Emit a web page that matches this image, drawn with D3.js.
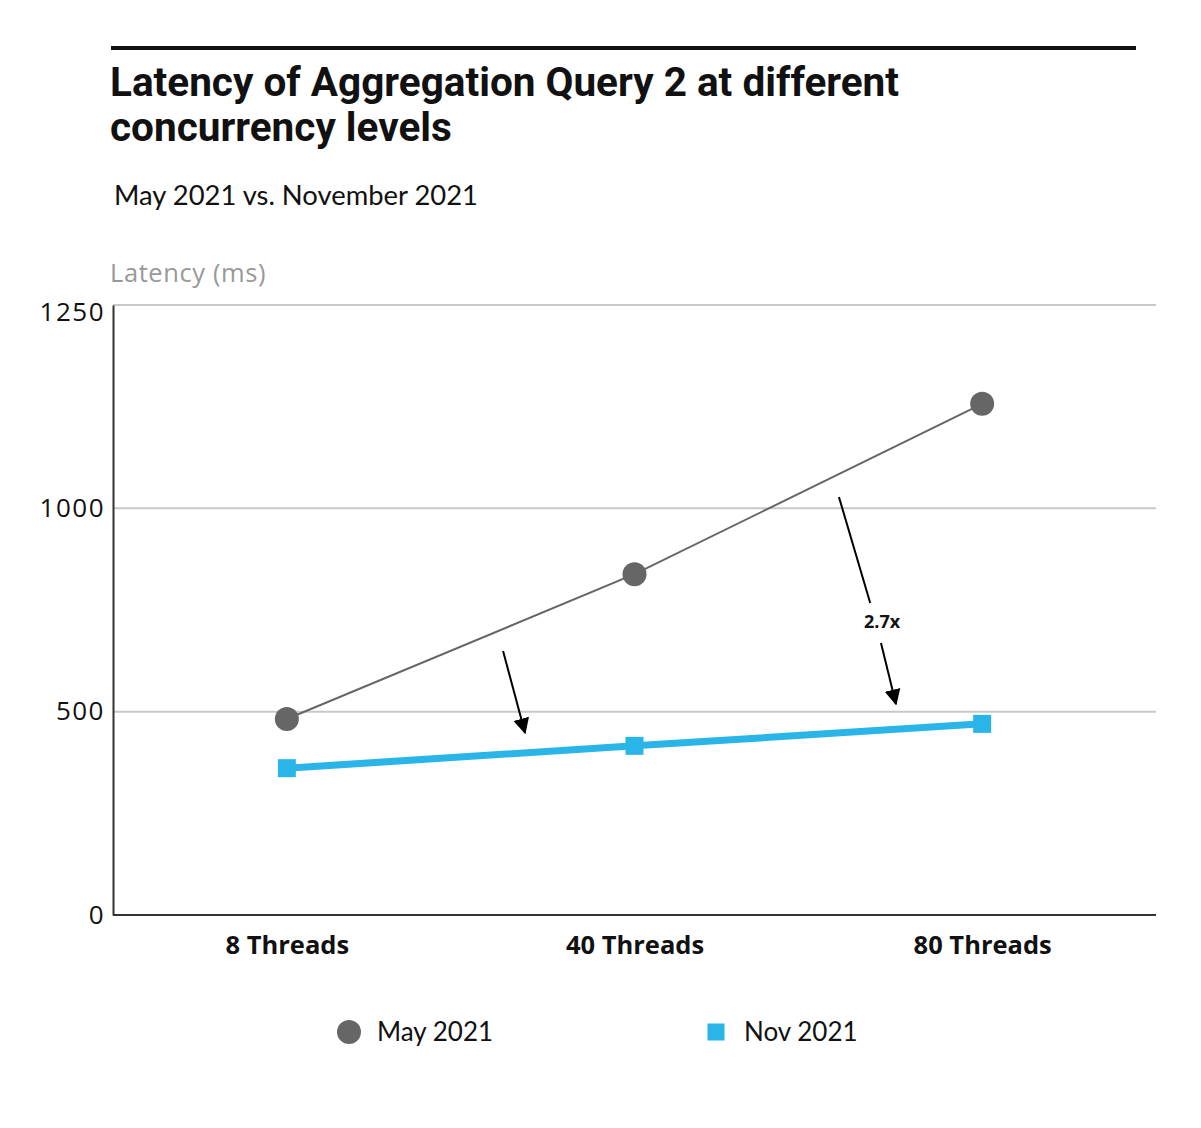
<!DOCTYPE html>
<html>
<head>
<meta charset="utf-8">
<script src="https://cdn.jsdelivr.net/npm/d3@7"></script>
<style>
  body { margin: 0; background: #fff; }
  svg { display: block; }
</style>
</head>
<body>
<svg id="chart" width="1201" height="1128"></svg>
<script>
// data
const threads = ["8 Threads", "40 Threads", "80 Threads"];
const may2021 = [482, 838, 1257];
const nov2021 = [361, 416, 470];
const tickValues = [0, 500, 1000, 1500];
const tickLabels = ["0", "500", "1000", "1250"];
const seriesNames = ["May 2021", "Nov 2021"];

// annotation arrows in data units (x = category index, y = latency)
const arrows = [
    [[0.622, 649], [0.685, 448]],
    [[1.588, 1028], [1.678, 767]],
    [[1.709, 669], [1.752, 519]]
];
const ratioLabel = { i: 1.712, v: 706, text: "2.7x" };

const plotLeft = 113, plotRight = 1156, plotTop = 305, plotBottom = 915;

const grey = "#666666";
const blue = "#29b5e8";

const svg = d3.select("#chart");

// top rule
svg.append("rect")
    .attr("x", 111).attr("y", 46)
    .attr("width", 1136 - 111).attr("height", 4)
    .attr("fill", "#111");

// title
const title = svg.append("text")
    .attr("x", 110)
    .attr("font-family", "Roboto")
    .attr("font-weight", 700)
    .attr("font-size", 40.5)
    .attr("fill", "#111");
title.append("tspan").attr("x", 110).attr("y", 96).text("Latency of Aggregation Query 2 at different");
title.append("tspan").attr("x", 110).attr("y", 141).text("concurrency levels");

svg.append("text")
    .attr("x", 114).attr("y", 205)
    .attr("font-family", "Lato")
    .attr("font-size", 27.4)
    .attr("fill", "#111")
    .text("May 2021 vs. November 2021");

svg.append("text")
    .attr("x", 110).attr("y", 282)
    .attr("font-family", "Open Sans")
    .attr("font-size", 25.5)
    .attr("letter-spacing", 0.6)
    .attr("fill", "#999")
    .text("Latency (ms)");

// scales
const x = d3.scalePoint()
    .domain(threads)
    .range([plotLeft, plotRight])
    .padding(0.5);

const xi = d3.scaleLinear()
    .domain([0, 1])
    .range([x(threads[0]), x(threads[1])]);

const y = d3.scaleLinear()
    .domain([0, 1500])
    .range([plotBottom, plotTop]);

// gridlines
svg.append("g")
    .selectAll("line")
    .data(tickValues.slice(1))
    .join("line")
    .attr("x1", plotLeft).attr("x2", plotRight)
    .attr("y1", d => y(d)).attr("y2", d => y(d))
    .attr("stroke", "#c8c8c8")
    .attr("stroke-width", 2);

// y axis
const yAxis = svg.append("g")
    .attr("transform", `translate(${plotLeft},0)`)
    .call(d3.axisLeft(y)
        .tickValues(tickValues)
        .tickSize(0)
        .tickPadding(8)
        .tickFormat((d, i) => tickLabels[i]));
yAxis.select(".domain").attr("stroke", "#333").attr("stroke-width", 2);
yAxis.selectAll("text")
    .attr("font-family", "Open Sans")
    .attr("font-size", 26)
    .attr("letter-spacing", 1.5)
    .attr("fill", "#111")
    .attr("dy", d => d === 1500 ? "0.6em" : "0.32em");

// x axis
const xAxis = svg.append("g")
    .attr("transform", `translate(0,${plotBottom})`)
    .call(d3.axisBottom(x).tickSize(0).tickPadding(21));
xAxis.select(".domain")
    .attr("d", `M${plotLeft},0H${plotRight}`)
    .attr("stroke", "#333").attr("stroke-width", 2);
xAxis.selectAll("text")
    .attr("font-family", "Open Sans")
    .attr("font-weight", 700)
    .attr("font-size", 25.5)
    .attr("fill", "#111");

// lines
const line = d3.line()
    .x((d, i) => x(threads[i]))
    .y(d => y(d));

svg.append("path")
    .datum(may2021)
    .attr("d", line)
    .attr("fill", "none")
    .attr("stroke", grey)
    .attr("stroke-width", 2);

svg.append("path")
    .datum(nov2021)
    .attr("d", line)
    .attr("fill", "none")
    .attr("stroke", blue)
    .attr("stroke-width", 7);

svg.append("g")
    .selectAll("circle")
    .data(may2021)
    .join("circle")
    .attr("cx", (d, i) => x(threads[i]))
    .attr("cy", d => y(d))
    .attr("r", 12)
    .attr("fill", grey);

const sq = 18;
svg.append("g")
    .selectAll("rect")
    .data(nov2021)
    .join("rect")
    .attr("x", (d, i) => x(threads[i]) - sq / 2)
    .attr("y", d => y(d) - sq / 2)
    .attr("width", sq).attr("height", sq)
    .attr("fill", blue);

// annotation arrows
svg.append("defs").append("marker")
    .attr("id", "head")
    .attr("viewBox", "0 0 10 10")
    .attr("refX", 9).attr("refY", 5)
    .attr("markerUnits", "userSpaceOnUse")
    .attr("markerWidth", 16).attr("markerHeight", 24)
    .attr("orient", "auto")
    .append("path")
    .attr("d", "M0,0L10,5L0,10Z")
    .attr("fill", "#000");

svg.append("g")
    .selectAll("line")
    .data(arrows)
    .join("line")
    .attr("x1", d => xi(d[0][0])).attr("y1", d => y(d[0][1]))
    .attr("x2", d => xi(d[1][0])).attr("y2", d => y(d[1][1]))
    .attr("stroke", "#000")
    .attr("stroke-width", 2)
    .attr("marker-end", (d, i) => i === 1 ? null : "url(#head)");

svg.append("text")
    .attr("x", xi(ratioLabel.i))
    .attr("y", y(ratioLabel.v))
    .attr("text-anchor", "middle")
    .attr("font-family", "Open Sans")
    .attr("font-weight", 700)
    .attr("font-size", 18)
    .attr("fill", "#111")
    .text(ratioLabel.text);

// legend
const legend = svg.append("g").attr("transform", "translate(0,1032)");
const legendX = [349, 716];
legend.append("circle")
    .attr("cx", legendX[0]).attr("cy", 0).attr("r", 12)
    .attr("fill", grey);
legend.append("rect")
    .attr("x", legendX[1] - 8.5).attr("y", -8.5)
    .attr("width", 17).attr("height", 17)
    .attr("fill", blue);
legend.selectAll("text")
    .data(seriesNames)
    .join("text")
    .attr("x", (d, i) => legendX[i] + 28)
    .attr("y", 9)
    .attr("font-family", "Lato")
    .attr("font-size", 26)
    .attr("fill", "#111")
    .text(d => d);
</script>
</body>
</html>
